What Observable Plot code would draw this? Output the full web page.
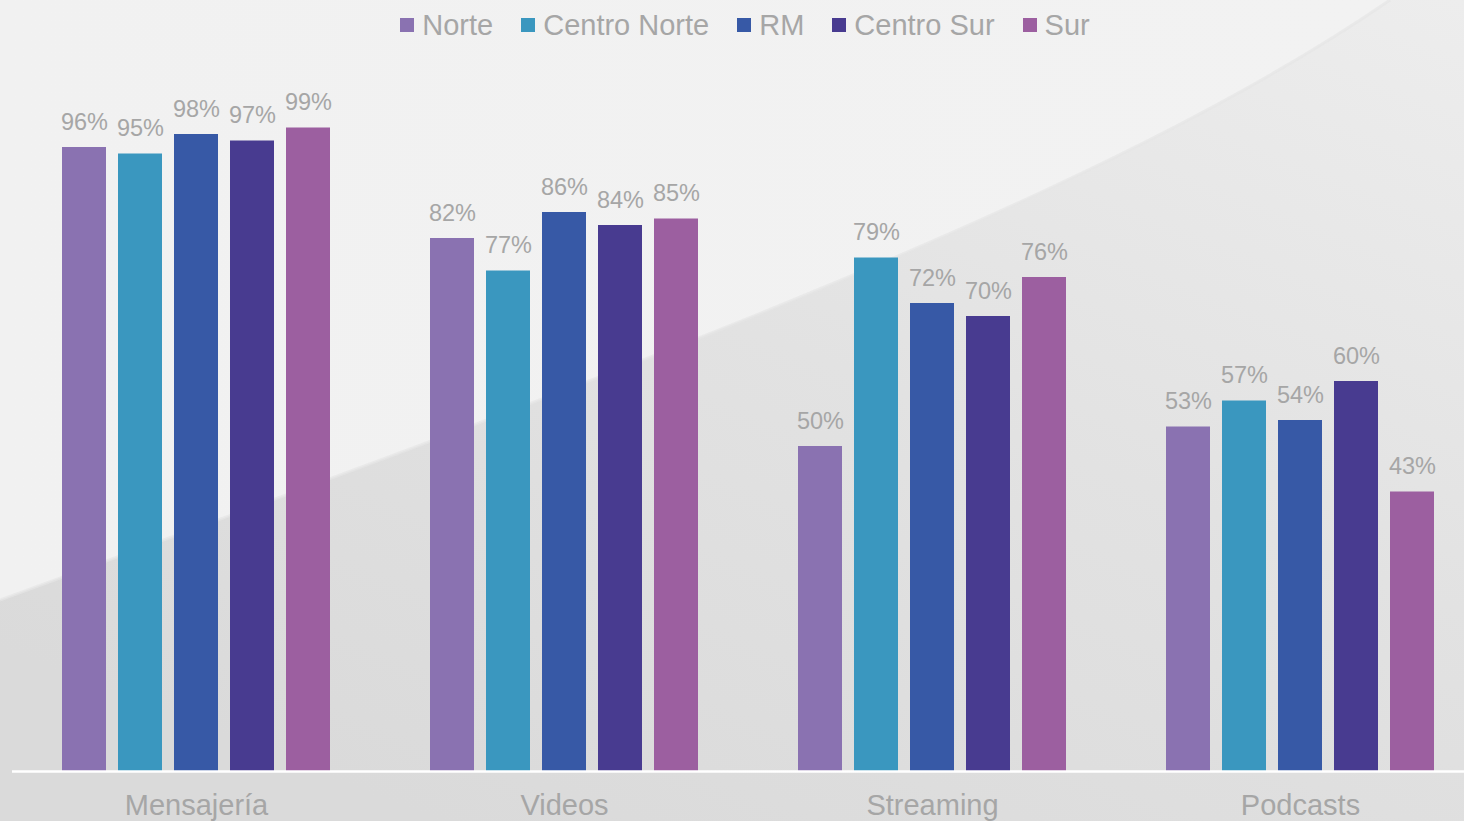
<!DOCTYPE html>
<html>
<head>
<meta charset="utf-8">
<script src="https://cdn.jsdelivr.net/npm/d3@7"></script>
<script src="https://cdn.jsdelivr.net/npm/@observablehq/plot@0.6"></script>
<style>
  html, body { margin: 0; padding: 0; width: 1464px; height: 821px; overflow: hidden; }
  body { position: relative; font-family: "Liberation Sans", Arial, sans-serif; }
  #bg { position: absolute; left: 0; top: 0; width: 1464px; height: 821px; z-index: 0; }
  #legend { position: relative; z-index: 1; height: 50px; display: flex; align-items: center;
            justify-content: center; padding-left: 26px; box-sizing: border-box; }
  .item { display: flex; align-items: center; margin: 0 14px; font-size: 29px; color: #a6a6a6; }
  .sw { width: 14px; height: 14px; margin-right: 8px; }
  #chart { position: relative; z-index: 1; width: 1484px; }
  #chart svg { max-width: none !important; }
</style>
</head>
<body>
<svg id="bg" width="1464" height="821" viewBox="0 0 1464 821">
  <defs>
    <linearGradient id="dark" x1="1" y1="0" x2="0.3" y2="1">
      <stop offset="0" stop-color="#ededed"/>
      <stop offset="0.5" stop-color="#e2e2e2"/>
      <stop offset="1" stop-color="#dadada"/>
    </linearGradient>
    <linearGradient id="light" x1="0" y1="0" x2="1" y2="0">
      <stop offset="0" stop-color="#f1f1f1"/>
      <stop offset="1" stop-color="#f2f2f2"/>
    </linearGradient>
  </defs>
  <rect width="1464" height="821" fill="url(#dark)"/>
  <path d="M1390,0 C1100,200 600,380 0,600 L0,0 Z" fill="url(#light)"/>
  <path d="M1390,0 C1100,200 600,380 0,600" fill="none" stroke="#e6e6e6" stroke-width="3" opacity="0.7"/>
</svg>
<div id="legend"></div>
<div id="chart"></div>
<script>
const categories = ["Mensajería", "Videos", "Streaming", "Podcasts"];
const regions = ["Norte", "Centro Norte", "RM", "Centro Sur", "Sur"];
const colors = ["#8a72b1", "#3a97bf", "#3759a6", "#483b90", "#9c5fa0"];
const norte = [96, 82, 50, 53];
const centroNorte = [95, 77, 79, 57];
const rm = [98, 86, 72, 54];
const centroSur = [97, 84, 70, 60];
const sur = [99, 85, 76, 43];

const series = [norte, centroNorte, rm, centroSur, sur];
const data = [];
categories.forEach((c, i) => {
  regions.forEach((r, j) => {
    data.push({category: c, region: r, value: series[j][i]});
  });
});

// legend
const legend = document.getElementById("legend");
regions.forEach((r, j) => {
  const it = document.createElement("div");
  it.className = "item";
  const sw = document.createElement("span");
  sw.className = "sw";
  sw.style.background = colors[j];
  const tx = document.createElement("span");
  tx.textContent = r;
  it.appendChild(sw); it.appendChild(tx);
  legend.appendChild(it);
});

const plot = Plot.plot({
  width: 1484,
  height: 771,
  marginLeft: 12,
  marginRight: 0,
  marginTop: 71,
  marginBottom: 50,
  style: {background: "transparent", color: "#a6a6a6", fontFamily: "'Liberation Sans', Arial, sans-serif", overflow: "visible", maxWidth: "none"},
  fx: {domain: categories, padding: 0, label: null},
  x: {domain: regions, paddingInner: 0.22, paddingOuter: 0.87, axis: null},
  y: {domain: [0, 100], axis: null},
  color: {domain: regions, range: colors},
  marks: [
    Plot.barY(data, {fx: "category", x: "region", y: "value", fill: "region"}),
    Plot.text(data, {fx: "category", x: "region", y: "value", text: d => d.value + "%",
      lineAnchor: "bottom", dy: -18, fontSize: 23.5, fill: "#a6a6a6"}),
    Plot.ruleY([0], {stroke: "white", strokeWidth: 2.5}),
    Plot.axisFx({anchor: "bottom", tickSize: 0, tickPadding: 23, fontSize: 29, label: null, fill: "#a6a6a6"})
  ]
});
document.getElementById("chart").appendChild(plot);
</script>
</body>
</html>
